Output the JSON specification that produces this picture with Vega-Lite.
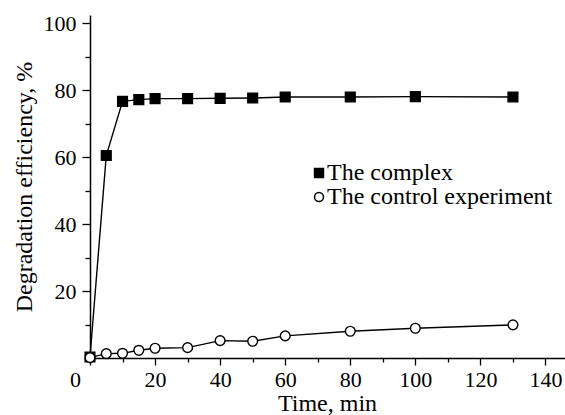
{
  "$schema": "https://vega.github.io/schema/vega-lite/v6.json",
  "autosize": "none",
  "width": 475,
  "height": 343,
  "padding": {"left": 90, "top": 15, "right": 0, "bottom": 57},
  "background": "white",
  "config": {
    "view": {"stroke": null},
    "font": "Liberation Serif",
    "axis": {"grid": false, "domainColor": "black", "domainWidth": 1.5, "tickColor": "black", "tickWidth": 1.3, "labelColor": "black", "titleColor": "black", "labelFontSize": 22, "titleFontSize": 24, "titleFontWeight": "normal"},
    "legend": {"labelFontSize": 24, "labelColor": "black", "labelLimit": 0}
  },
  "data": {
    "values": [
      {"t": 0, "v": 0.3, "series": "The complex"},
      {"t": 5, "v": 60.5, "series": "The complex"},
      {"t": 10, "v": 76.7, "series": "The complex"},
      {"t": 15, "v": 77.2, "series": "The complex"},
      {"t": 20, "v": 77.5, "series": "The complex"},
      {"t": 30, "v": 77.5, "series": "The complex"},
      {"t": 40, "v": 77.6, "series": "The complex"},
      {"t": 50, "v": 77.7, "series": "The complex"},
      {"t": 60, "v": 78.0, "series": "The complex"},
      {"t": 80, "v": 78.0, "series": "The complex"},
      {"t": 100, "v": 78.1, "series": "The complex"},
      {"t": 130, "v": 78.0, "series": "The complex"},
      {"t": 0, "v": 0.1, "series": "The control experiment"},
      {"t": 5, "v": 1.3, "series": "The control experiment"},
      {"t": 10, "v": 1.4, "series": "The control experiment"},
      {"t": 15, "v": 2.3, "series": "The control experiment"},
      {"t": 20, "v": 2.9, "series": "The control experiment"},
      {"t": 30, "v": 3.1, "series": "The control experiment"},
      {"t": 40, "v": 5.2, "series": "The control experiment"},
      {"t": 50, "v": 5.0, "series": "The control experiment"},
      {"t": 60, "v": 6.6, "series": "The control experiment"},
      {"t": 80, "v": 8.0, "series": "The control experiment"},
      {"t": 100, "v": 8.9, "series": "The control experiment"},
      {"t": 130, "v": 9.9, "series": "The control experiment"}
    ]
  },
  "encoding": {
    "x": {
      "field": "t", "type": "quantitative",
      "scale": {"domain": [0, 146], "nice": false},
      "axis": {
        "title": "Time, min",
        "labelFont": "Liberation Serif",
        "titleFont": "Liberation Serif",
        "values": [0, 10, 20, 30, 40, 50, 60, 70, 80, 90, 100, 110, 120, 130, 140],
        "labelExpr": "datum.value % 20 === 0 ? datum.label : ''",
        "tickSize": {"condition": {"test": "datum.value % 20 === 0", "value": 7}, "value": 4},
        "labelOffset": {"condition": {"test": "datum.value === 0", "value": -15}, "value": 0},
        "labelPadding": 4,
        "labelFlush": false,
        "labelOverlap": false,
        "titleX": 237,
        "titleY": 52,
        "titleAlign": "center",
        "titleBaseline": "alphabetic"
      }
    },
    "y": {
      "field": "v", "type": "quantitative",
      "scale": {"domain": [0, 102.5], "nice": false},
      "axis": {
        "title": "Degradation efficiency, %",
        "labelFont": "Liberation Serif",
        "titleFont": "Liberation Serif",
        "values": [10, 20, 30, 40, 50, 60, 70, 80, 90, 100],
        "labelExpr": "datum.value % 20 === 0 ? datum.label : ''",
        "tickSize": {"condition": {"test": "datum.value % 20 === 0", "value": 8}, "value": 5},
        "labelPadding": 6,
        "labelOverlap": false,
        "labelFlush": false,
        "titleAngle": -90,
        "titleX": -59,
        "titleY": 171.5,
        "titleAlign": "center",
        "titleBaseline": "alphabetic"
      }
    }
  },
  "layer": [
    {
      "mark": {"type": "line", "color": "black", "strokeWidth": 1.4},
      "encoding": {"detail": {"field": "series"}}
    },
    {
      "mark": {"type": "point", "filled": true, "stroke": "black", "strokeWidth": 1.4, "opacity": 1, "size": 95},
      "encoding": {
        "shape": {"field": "series", "type": "nominal", "scale": {"domain": ["The complex", "The control experiment"], "range": ["square", "circle"]},
          "legend": {"title": null, "orient": "none", "legendX": 217, "legendY": 146, "padding": 0, "labelOffset": -4, "rowPadding": 0, "labelFont": "Liberation Serif", "symbolSize": 80,
            "encode": {"symbols": {"update": {"stroke": {"value": "black"}, "strokeWidth": {"value": 1.3}}}}}},
        "fill": {"field": "series", "type": "nominal", "scale": {"domain": ["The complex", "The control experiment"], "range": ["black", "white"]},
          "legend": {"title": null, "orient": "none", "legendX": 217, "legendY": 146, "padding": 0, "labelOffset": -4, "rowPadding": 0, "labelFont": "Liberation Serif", "symbolSize": 80,
            "encode": {"symbols": {"update": {"stroke": {"value": "black"}, "strokeWidth": {"value": 1.3}}}}}}
      }
    }
  ]
}
